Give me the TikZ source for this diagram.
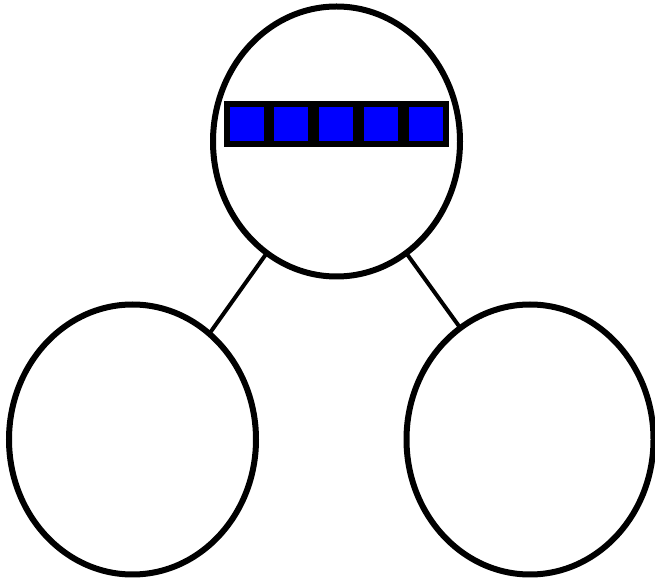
\documentclass[tikz,border=0pt]{standalone}
\usepackage{xcolor}
\usepackage{tikz}
\usetikzlibrary{shapes.geometric, positioning}

\begin{document}
\begin{tikzpicture}[
        tree/.style={ellipse, draw, line width=0.12cm, inner sep=0pt, outer sep=0pt,
            minimum width=4.94cm, minimum height=5.4cm},
        cell/.style={rectangle, draw, fill=blue, line width=0.12cm, inner sep=0pt,
            minimum size=0.8cm},
        edge/.style={line width=0.08cm}
    ]
        \useasboundingbox (0,0) rectangle (13.1,-11.64);

        % Root and two children
        \node[tree] (root) at (6.73,-2.83) {};
        \node[tree] (left) at (2.65,-8.79) {};
        \node[tree] (right) at (10.6,-8.79) {};

        % Array of cells inside the root
        \foreach \i in {1,...,5}
            \node[cell] (cell\i) at ({4.93+0.898*(\i-1)},-2.49) {};

        % Edges
        \draw[edge] (root.238) -- (left.54);
        \draw[edge] (root.302) -- (right.122);
    \end{tikzpicture}
\end{document}
